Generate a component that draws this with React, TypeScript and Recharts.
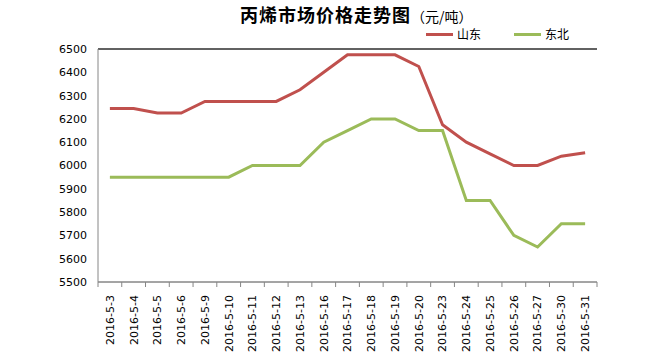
import React from 'react';
import { LineChart, Line, XAxis, YAxis, CartesianGrid, ReferenceLine } from 'recharts';

const dates = [
    '2016-5-3', '2016-5-4', '2016-5-5', '2016-5-6', '2016-5-9', '2016-5-10', '2016-5-11',
    '2016-5-12', '2016-5-13', '2016-5-16', '2016-5-17', '2016-5-18', '2016-5-19', '2016-5-20',
    '2016-5-23', '2016-5-24', '2016-5-25', '2016-5-26', '2016-5-27', '2016-5-30', '2016-5-31',
];
const shandong = [
    6245, 6245, 6225, 6225, 6275, 6275, 6275, 6275, 6325, 6400, 6475,
    6475, 6475, 6425, 6175, 6100, 6050, 6000, 6000, 6040, 6055,
];
const dongbei = [
    5950, 5950, 5950, 5950, 5950, 5950, 6000, 6000, 6000, 6100, 6150,
    6200, 6200, 6150, 6150, 5850, 5850, 5700, 5650, 5750, 5750,
];
const yTicks = [5500, 5600, 5700, 5800, 5900, 6000, 6100, 6200, 6300, 6400, 6500];

const RED = '#C0504D';
const GREEN = '#9BBB59';
const GRID = '#868686';

const W = 659;
const H = 353;
const margin = { top: 49, right: 62, left: 38, bottom: 5 };
const yAxisWidth = 60;
const band = (W - margin.left - yAxisWidth - margin.right) / dates.length;

const data = dates.map((d, i) => ({ date: d, sd: shandong[i], db: dongbei[i] }));

// category ticks sit between the points, like the Excel original
function DateTick(props: any) {
    const { x, y, payload, index } = props;
    const last = index === dates.length - 1;
    return (
        <g>
            <line x1={x - band / 2} x2={x - band / 2} y1={y} y2={y + 5} stroke={GRID} />
            {last && <line x1={x + band / 2} x2={x + band / 2} y1={y} y2={y + 5} stroke={GRID} />}
            <text
                transform={`translate(${x},${y + 13}) rotate(-90)`}
                textAnchor="end"
                dy="0.35em"
                fontSize={11}
                fontFamily="DejaVu Sans"
                fill="#000"
            >
                {payload.value}
            </text>
        </g>
    );
}

export default function App() {
    return (
        <div style={{ position: 'absolute', left: 0, top: 0, width: W, height: H, background: '#fff' }}>
            <div
                style={{
                    position: 'absolute', left: 240, top: 1, whiteSpace: 'nowrap',
                    fontFamily: '"Noto Sans CJK SC"', lineHeight: '26px', color: '#000',
                }}
            >
                <span style={{ fontSize: 18, fontWeight: 'bold', letterSpacing: 1 }}>丙烯市场价格走势图</span>
                <span style={{ fontSize: 14 }}>（元/吨）</span>
            </div>
            {[
                { name: '山东', color: RED, left: 426 },
                { name: '东北', color: GREEN, left: 514 },
            ].map(item => (
                <div
                    key={item.name}
                    style={{
                        position: 'absolute', left: item.left, top: 26, display: 'flex', alignItems: 'center',
                        fontFamily: '"Noto Sans CJK SC"', fontSize: 12, lineHeight: '16px', color: '#000',
                    }}
                >
                    <span style={{ display: 'inline-block', width: 27, height: 3, background: item.color, marginRight: 4 }} />
                    {item.name}
                </div>
            ))}
            <LineChart width={W} height={H} data={data} margin={margin}>
                <CartesianGrid vertical={false} stroke={GRID} />
                <XAxis
                    dataKey="date"
                    interval={0}
                    height={66}
                    padding={{ left: band / 2, right: band / 2 }}
                    tickLine={false}
                    tickSize={0}
                    tickMargin={0}
                    stroke={GRID}
                    tick={<DateTick />}
                />
                <YAxis
                    yAxisId="left"
                    domain={[5500, 6500]}
                    ticks={yTicks}
                    width={yAxisWidth}
                    tickLine={false}
                    tickSize={0}
                    tickMargin={11}
                    stroke={GRID}
                    tick={{ fill: '#000', fontSize: 11, fontFamily: 'DejaVu Sans' }}
                />
                <YAxis
                    yAxisId="right"
                    orientation="right"
                    domain={[5500, 6500]}
                    width={0}
                    tick={false}
                    tickLine={false}
                    stroke="#000"
                />
                <ReferenceLine yAxisId="left" y={6500} stroke="#000" />
                <Line yAxisId="left" type="linear" dataKey="sd" stroke={RED} strokeWidth={3} dot={false} isAnimationActive={false} />
                <Line yAxisId="left" type="linear" dataKey="db" stroke={GREEN} strokeWidth={3} dot={false} isAnimationActive={false} />
            </LineChart>
        </div>
    );
}
